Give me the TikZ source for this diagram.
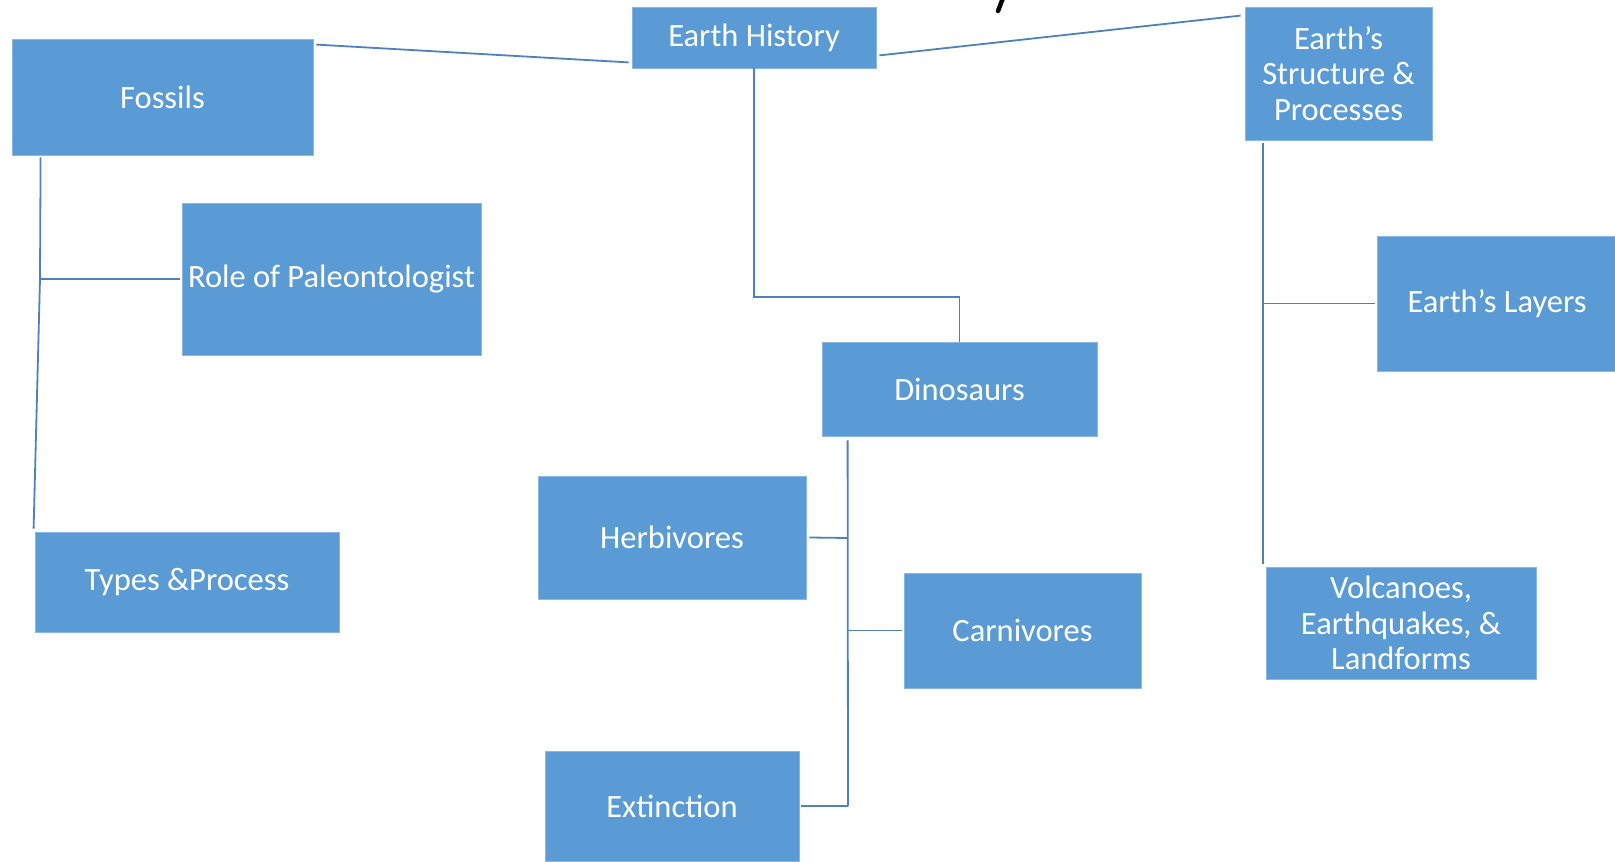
\documentclass[tikz,border=0pt]{standalone}
\usepackage{fontspec}
\setmainfont{Carlito}
\usetikzlibrary{calc}
\definecolor{boxblue}{HTML}{5B9BD5}
\definecolor{boxedge}{HTML}{8AB8E6}
\definecolor{linkblue}{HTML}{4F81BD}
\tikzset{
  box/.style={rectangle, fill=boxblue, draw=boxedge, line width=0.8pt, inner sep=0pt,
    text=white, align=center, font=\fontsize{32.5}{35.5}\selectfont},
  link/.style={draw=linkblue, line width=1.8pt},
}
\begin{document}
\begin{tikzpicture}[x=1pt,y=-1pt]
\useasboundingbox[fill=white] (0,0) rectangle (1615,862);
\begin{scope}
\clip (0,0) rectangle (1615,862);
% nodes
\node[box, minimum width=244pt, minimum height=61pt] (eh) at (754,37.5) {Earth History};
\node[box, minimum width=301pt, minimum height=116pt] (fos) at (162.5,97) {Fossils};
\node[box, minimum width=187pt, minimum height=133pt] (esp) at (1338.5,73.5) {Earth’s\\Structure \&\\Processes};
\node[box, minimum width=299pt, minimum height=152pt] (role) at (331.5,279) {Role of Paleontologist};
\node[box, minimum width=240pt, minimum height=135pt] (lay) at (1497,303.5) {Earth’s Layers};
\node[box, minimum width=275pt, minimum height=94pt] (dino) at (959.5,389) {Dinosaurs};
\node[box, minimum width=268pt, minimum height=123pt] (herb) at (672,537.5) {Herbivores};
\node[box, minimum width=237pt, minimum height=115pt] (carn) at (1022.5,630.5) {Carnivores};
\node[box, minimum width=304pt, minimum height=100pt] (types) at (187,582) {Types \&Process};
\node[box, minimum width=270pt, minimum height=112pt] (volc) at (1401,623) {Volcanoes,\\Earthquakes, \&\\Landforms};
\node[box, minimum width=254pt, minimum height=110pt] (ext) at (672,806) {Extinction};
% stray mark of a cut-off title
\draw[black, line width=4.5pt, line cap=round] (1003,-2) -- (998,11);
% junction coordinates
\coordinate (ehbend) at (754,297);
\coordinate (fosj) at (40,279);
\coordinate (dtop) at (848,440);
\coordinate (dherb) at (848,538);
\coordinate (dcarn) at (848,630.5);
\coordinate (dext) at (848,806);
\coordinate (ej) at (1263,303.5);
% connectors
\draw[link] ([shift={(3,6)}]fos.north east) -- ([shift={(-3,-6)}]eh.south west);
\draw[link] ([shift={(3,-13)}]eh.south east) -- ([shift={(-4,9)}]esp.north west);
\draw[link] (eh.south) -- (ehbend) -| (dino.north);
\draw[link] ([shift={(29,2)}]fos.south west) -- (fosj) -- ([shift={(-1,-3)}]types.north west);
\draw[link] (fosj) -- ([xshift=-2pt]role.west);
\draw[link] ([shift={(26,4)}]dino.south west) -- (dext);
\draw[link] ([xshift=3pt]herb.east) -- (dherb);
\draw[link] (dcarn) -- ([xshift=-2pt]carn.west);
\draw[link] ([xshift=2pt]ext.east) -- (dext);
\draw[link] ([shift={(18,3)}]esp.south west) -- ([shift={(-3,-3)}]volc.north west);
\draw[link] (ej) -- ([xshift=-2pt]lay.west);
\end{scope}
\end{tikzpicture}
\end{document}
